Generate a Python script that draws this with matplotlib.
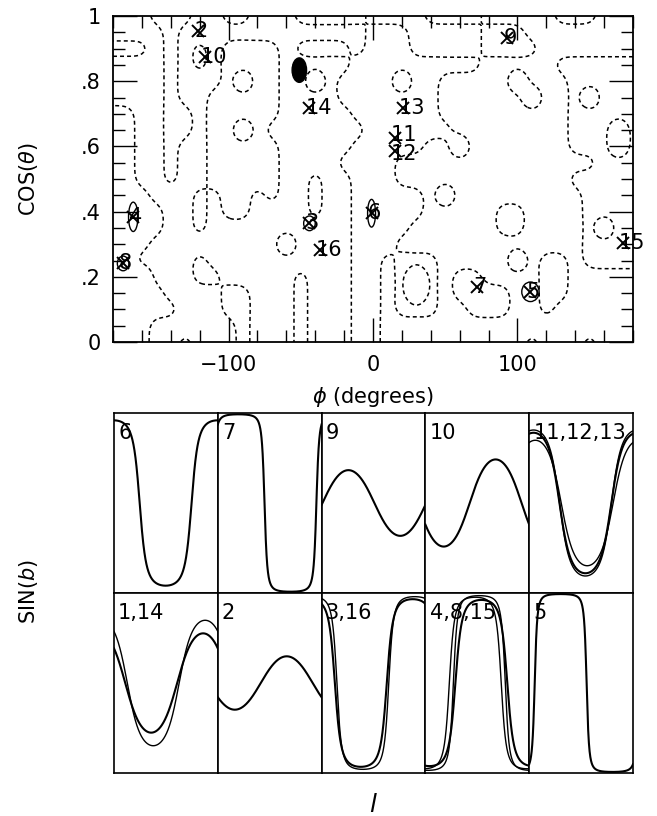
import numpy as np
import matplotlib
matplotlib.use('Agg')
import matplotlib.pyplot as plt
from matplotlib.ticker import FixedLocator, FixedFormatter, MultipleLocator
from matplotlib.patches import Ellipse

plt.rcParams['font.family'] = ['DejaVu Sans']
plt.rcParams['mathtext.fontset'] = 'dejavusans'

# ---------------- data ----------------
# solutions (pole parameters) marked in the upper panel
sol_id = ['1', '2', '3', '4', '5', '6', '7', '8', '9', '10', '11', '12', '13', '14', '15', '16']
sol_phi = [-51, -121, -44, -166, 109, -1, 72, -173, 93, -116.5, 15, 15, 21, -44, 173, -37]
sol_cos = [0.834, 0.955, 0.364, 0.384, 0.154, 0.395, 0.170, 0.241, 0.931, 0.875,
           0.625, 0.585, 0.717, 0.717, 0.303, 0.282]

# lower panels: which solutions are drawn in each
panel_groups = [['6'], ['7'], ['9'], ['10'], ['11', '12', '13'],
                ['1', '14'], ['2'], ['3', '16'], ['4', '8', '15'], ['5']]
panel_titles = ['6', '7', '9', '10', '11,12,13', '1,14', '2', '3,16', '4,8,15', '5']

# coarse likelihood map, read by eye (rows from cos=1.00 down to cos=0.00,
# columns phi=-180..180 step 10); 0 low, 1 high, 2 small peak, h small dip
grid_phi = np.arange(-180, 181, 10)
grid_cos = np.round(np.arange(21) * 0.05, 2)
map_rows = [
    "0001110011000111110000111100000111000",  # 1.00
    "0000100000000000001110000011100000000",  # 0.95
    "1110101011110111101110000011110000000",  # 0.90
    "0000101011110000011111111100000111111",  # 0.85
    "000010001h1100201111h1100000200011111",  # 0.80
    "000010011111000011111110000002001h111",  # 0.75
    "1100110111110000011111100000000011111",  # 0.70
    "110011011h1000000011111100000000111h1",  # 0.65
    "11001001111100000111110020000000111h1",  # 0.60
    "1100100111110000111100000000000000111",  # 0.55
    "1100100111110010011100000000000011111",  # 0.50
    "1110001011010010011111020000000001111",  # 0.45
    "1111001011000010011111000001100001111",  # 0.40
    "1111001000000000011110000001100001h11",  # 0.35
    "1110000000002000011100000000000001111",  # 0.30
    "1100001000000000011011100000201101111",  # 0.25
    "102000110000010001101h101100001100000",  # 0.20
    "111100001100010001101h101111001100000",  # 0.15
    "1111100011000100011011100111001000000",  # 0.10
    "1110000001000100011000000000000000000",  # 0.05
    "1110010001000100011000000000010001000",  # 0.00
]
cell_value = {'0': 0.0, '1': 1.0, '2': 2.0, 'h': -1.0}

xtick_vals = [-100, 0, 100]
xtick_labels = ['\u2212100', '0', '100']
ytick_vals = [0, 0.2, 0.4, 0.6, 0.8, 1.0]
ytick_labels = ['0', '.2', '.4', '.6', '.8', '1']

# ---------------- figure ----------------
W, H = 657, 816
fig = plt.figure(figsize=(W / 100, H / 100), dpi=100)


def fx(px):
    return px / W


def fy(py):
    return 1 - py / H


# ----- upper panel -----
ax = fig.add_axes([fx(113), fy(342), fx(633) - fx(113), fy(16) - fy(342)])

for r in map_rows:
    assert len(r) == len(grid_phi), r
F = np.array([[cell_value[ch] for ch in row] for row in map_rows[::-1]])
fine_phi = np.linspace(-180, 180, 361)
fine_cos = np.linspace(0, 1, 201)
tmp = np.array([np.interp(fine_phi, grid_phi, F[j]) for j in range(F.shape[0])])
Ff = np.array([np.interp(fine_cos, grid_cos, tmp[:, i]) for i in range(tmp.shape[1])]).T


def blur(a, sigma, axis):
    rr = int(3 * sigma)
    x = np.arange(-rr, rr + 1)
    k = np.exp(-0.5 * (x / sigma) ** 2)
    k /= k.sum()
    pad = [(0, 0), (0, 0)]
    pad[axis] = (rr, rr)
    ap = np.pad(a, pad, mode='edge')
    return np.apply_along_axis(lambda v: np.convolve(v, k, mode='valid'), axis, ap)


Ff = blur(blur(Ff, 4.0, 1), 4.0, 0)
PHI, COS = np.meshgrid(fine_phi, fine_cos)
cs = ax.contour(PHI, COS, Ff, levels=[0.5], colors='k', linewidths=1.1)
try:
    cs.set_linestyle((0, (2.6, 2.0)))
except Exception:
    pass

# solid blobs / small solid contours around some solutions
ax.add_patch(Ellipse((sol_phi[0], sol_cos[0]), 10, 0.075, color='k', zorder=4))
for sid, w, h in [('6', 5.5, 0.085), ('4', 6.5, 0.09), ('8', 8, 0.045), ('5', 12, 0.06), ('3', 8, 0.045)]:
    i = sol_id.index(sid)
    ax.add_patch(Ellipse((sol_phi[i], sol_cos[i]), w, h, fill=False, ec='k', lw=1.0, zorder=4))

ax.plot(sol_phi, sol_cos, 'x', color='k', ms=9, mew=1.4, zorder=5)
label_dy = {'11': 2, '12': -2}
for sid, p, c in zip(sol_id, sol_phi, sol_cos):
    ax.annotate(sid, (p, c), xytext=(-3, label_dy.get(sid, 0)), textcoords='offset points',
                ha='left', va='center', fontsize=15, zorder=6)

ax.set_xlim(-180, 180)
ax.set_ylim(0, 1)
ax.xaxis.set_major_locator(FixedLocator(xtick_vals))
ax.xaxis.set_major_formatter(FixedFormatter(xtick_labels))
ax.xaxis.set_minor_locator(MultipleLocator(20))
ax.yaxis.set_major_locator(FixedLocator(ytick_vals))
ax.yaxis.set_major_formatter(FixedFormatter(ytick_labels))
ax.yaxis.set_minor_locator(MultipleLocator(0.05))
ax.tick_params(which='both', direction='in', top=True, right=True, width=1.0, labelsize=15)
ax.tick_params(which='major', length=17, pad=9)
ax.tick_params(which='minor', length=8.5)
for s in ax.spines.values():
    s.set_linewidth(1.3)

fig.text(fx(28), fy(179), r'COS($\theta$)', rotation=90, ha='center', va='center', fontsize=15)
fig.text(fx(373), fy(397), r'$\phi$ (degrees)', ha='center', va='center', fontsize=15)

# ----- lower panels -----
l = np.linspace(0, 360, 721)
x0, x1, y0, y1 = 114, 633, 413, 773
pw = (x1 - x0) / 5
ph = (y1 - y0) / 2
for idx, (grp, title) in enumerate(zip(panel_groups, panel_titles)):
    r, c = divmod(idx, 5)
    left = x0 + c * pw
    top = y0 + r * ph
    pax = fig.add_axes([fx(left), fy(top + ph), pw / W, ph / H])
    for n, sid in enumerate(grp):
        i = sol_id.index(sid)
        c0 = sol_cos[i]
        s0 = np.sqrt(1 - c0 ** 2)
        d = np.cos(np.radians(l - sol_phi[i]))
        sinb = s0 * d / np.sqrt(c0 ** 2 + (s0 * d) ** 2)
        pax.plot(l, sinb, color='k', lw=1.5 if n == 0 else 1.0)
    pax.set_xlim(0, 360)
    pax.set_ylim(-1, 1)
    pax.set_xticks([])
    pax.set_yticks([])
    for s in pax.spines.values():
        s.set_linewidth(1.2)
    pax.text(0.04, 0.945, title, transform=pax.transAxes, ha='left', va='top', fontsize=15)

fig.text(fx(28), fy(592), r'SIN($b$)', rotation=90, ha='center', va='center', fontsize=15)
fig.text(fx(373), fy(805), r'$l$', ha='center', va='center', fontsize=18)

fig.savefig('out.png', dpi=100)
